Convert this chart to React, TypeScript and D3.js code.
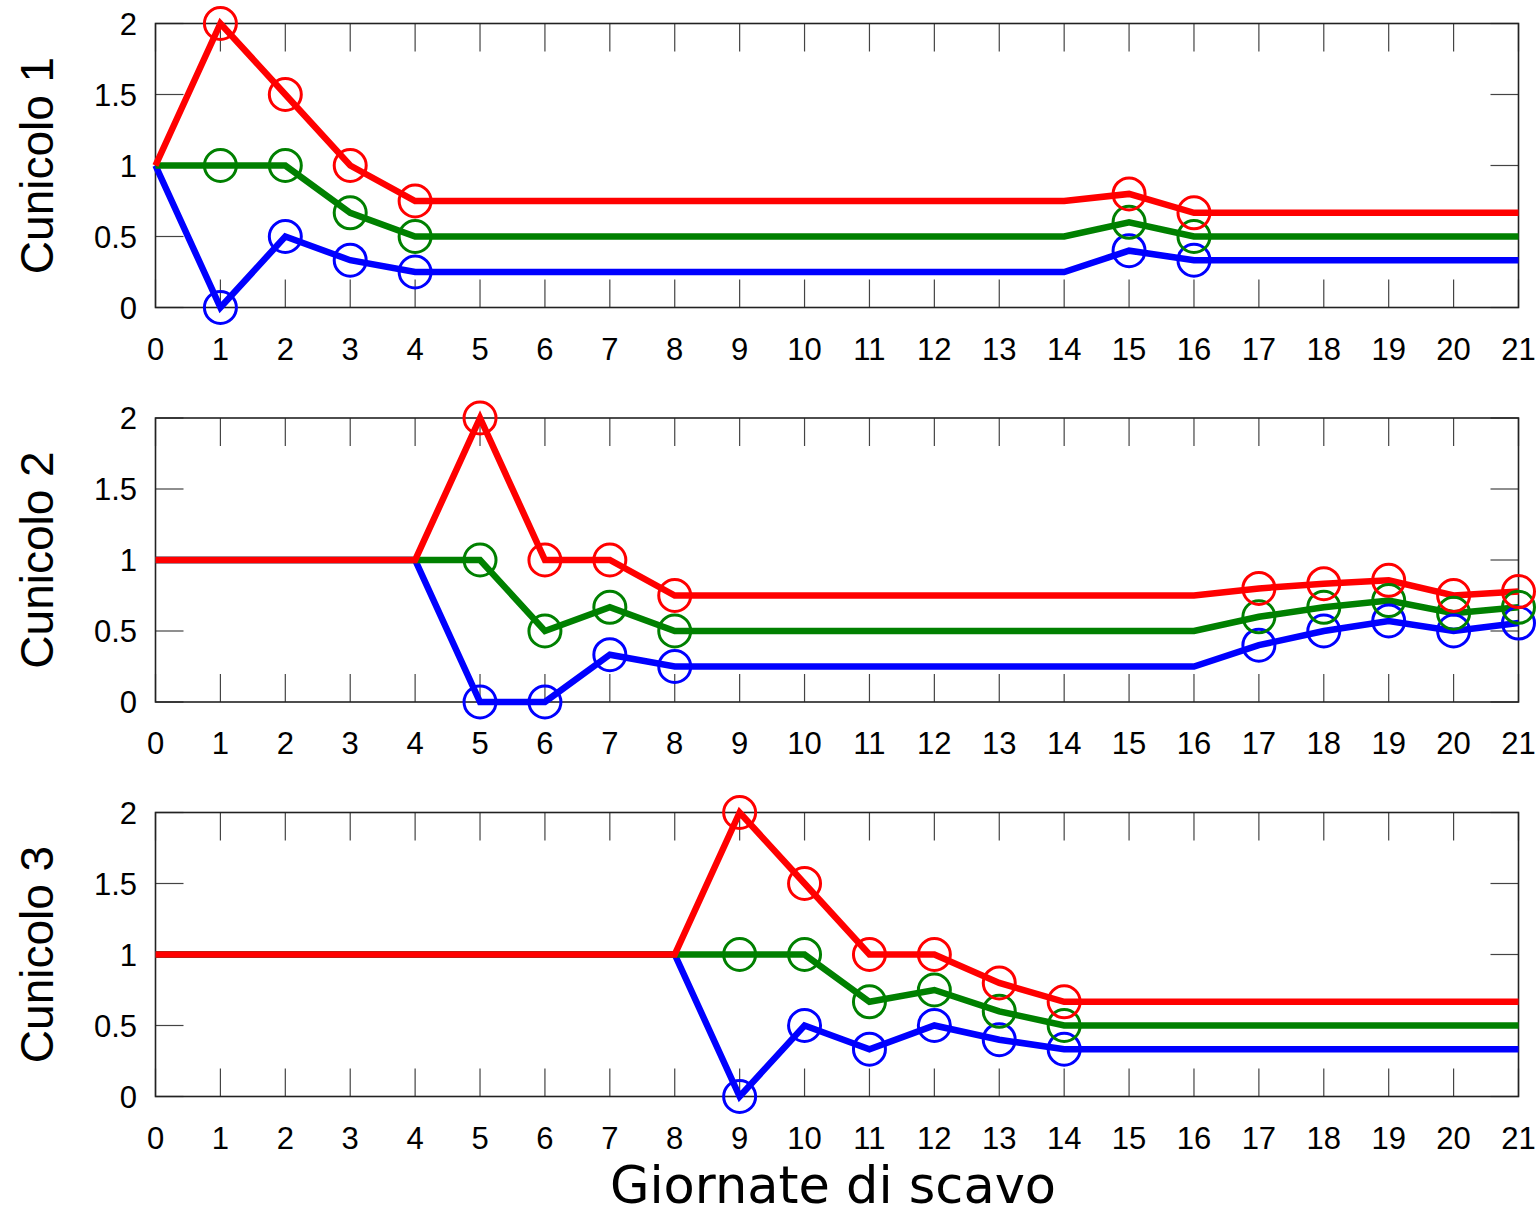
import React from "react";
import * as d3 from "d3";

const days = d3.range(0, 22);
const xTicks = d3.range(0, 22);
const yTicks = [0, 0.5, 1, 1.5, 2];
const yTickLabels = ["0", "0.5", "1", "1.5", "2"];
const panelTitles = ["Cunicolo 1", "Cunicolo 2", "Cunicolo 3"];
const xTitle = "Giornate di scavo";

// Cunicolo 1 (values for day 0..21)
const c1Red = [1, 2, 1.5, 1, 0.75, 0.75, 0.75, 0.75, 0.75, 0.75, 0.75, 0.75, 0.75, 0.75, 0.75, 0.8, 0.667, 0.667, 0.667, 0.667, 0.667, 0.667];
const c1Green = [1, 1, 1, 0.667, 0.5, 0.5, 0.5, 0.5, 0.5, 0.5, 0.5, 0.5, 0.5, 0.5, 0.5, 0.6, 0.5, 0.5, 0.5, 0.5, 0.5, 0.5];
const c1Blue = [1, 0, 0.5, 0.333, 0.25, 0.25, 0.25, 0.25, 0.25, 0.25, 0.25, 0.25, 0.25, 0.25, 0.25, 0.4, 0.333, 0.333, 0.333, 0.333, 0.333, 0.333];
const c1Markers = [1, 2, 3, 4, 15, 16];

// Cunicolo 2
const c2Red = [1, 1, 1, 1, 1, 2, 1, 1, 0.75, 0.75, 0.75, 0.75, 0.75, 0.75, 0.75, 0.75, 0.75, 0.8, 0.833, 0.857, 0.75, 0.778];
const c2Green = [1, 1, 1, 1, 1, 1, 0.5, 0.667, 0.5, 0.5, 0.5, 0.5, 0.5, 0.5, 0.5, 0.5, 0.5, 0.6, 0.667, 0.714, 0.625, 0.667];
const c2Blue = [1, 1, 1, 1, 1, 0, 0, 0.333, 0.25, 0.25, 0.25, 0.25, 0.25, 0.25, 0.25, 0.25, 0.25, 0.4, 0.5, 0.571, 0.5, 0.556];
const c2Markers = [5, 6, 7, 8, 17, 18, 19, 20, 21];

// Cunicolo 3
const c3Red = [1, 1, 1, 1, 1, 1, 1, 1, 1, 2, 1.5, 1, 1, 0.8, 0.667, 0.667, 0.667, 0.667, 0.667, 0.667, 0.667, 0.667];
const c3Green = [1, 1, 1, 1, 1, 1, 1, 1, 1, 1, 1, 0.667, 0.75, 0.6, 0.5, 0.5, 0.5, 0.5, 0.5, 0.5, 0.5, 0.5];
const c3Blue = [1, 1, 1, 1, 1, 1, 1, 1, 1, 0, 0.5, 0.333, 0.5, 0.4, 0.333, 0.333, 0.333, 0.333, 0.333, 0.333, 0.333, 0.333];
const c3Markers = [9, 10, 11, 12, 13, 14];

const seriesColors = ["#0000ff", "#008000", "#ff0000"];

const panels = [
  { title: panelTitles[0], series: [c1Blue, c1Green, c1Red], markers: c1Markers },
  { title: panelTitles[1], series: [c2Blue, c2Green, c2Red], markers: c2Markers },
  { title: panelTitles[2], series: [c3Blue, c3Green, c3Red], markers: c3Markers },
];

const W = 1539;
const H = 1215;
const left = 155.5;
const right = 1518.5;
const tops = [23.5, 418, 812.5];
const plotH = 284;
const tickLen = 28;

export default function App() {
  const x = d3.scaleLinear().domain([0, 21]).range([left, right]);
  return (
    <svg width={W} height={H} style={{ position: "absolute", left: 0, top: 0, background: "#fff" }}>
      <rect x={0} y={0} width={W} height={H} fill="#fff" />
      {panels.map((p, pi) => {
        const top = tops[pi];
        const bottom = top + plotH;
        const y = d3.scaleLinear().domain([0, 2]).range([bottom, top]);
        const line = d3
          .line<number>()
          .x((_, i) => x(days[i]))
          .y((v) => y(v));
        return (
          <g key={pi}>
            {xTicks.map((t) => (
              <g key={"xt" + t} stroke="#444" strokeWidth={1.2}>
                <line x1={x(t)} x2={x(t)} y1={bottom} y2={bottom - tickLen} />
                <line x1={x(t)} x2={x(t)} y1={top} y2={top + tickLen} />
              </g>
            ))}
            {yTicks.map((t) => (
              <g key={"yt" + t} stroke="#444" strokeWidth={1.2}>
                <line x1={left} x2={left + tickLen} y1={y(t)} y2={y(t)} />
                <line x1={right} x2={right - tickLen} y1={y(t)} y2={y(t)} />
              </g>
            ))}
            <rect x={left} y={top} width={right - left} height={plotH} fill="none" stroke="#222" strokeWidth={1.6} />
            {xTicks.map((t) => (
              <text
                key={"xl" + t}
                x={x(t)}
                y={bottom + 52}
                textAnchor="middle"
                fontFamily="Liberation Sans, Arial, sans-serif"
                fontSize={31}
                fill="#000"
              >
                {t}
              </text>
            ))}
            {yTicks.map((t, i) => (
              <text
                key={"yl" + t}
                x={137}
                y={y(t)}
                dy="0.36em"
                textAnchor="end"
                fontFamily="Liberation Sans, Arial, sans-serif"
                fontSize={31}
                fill="#000"
              >
                {yTickLabels[i]}
              </text>
            ))}
            <text
              transform={`translate(53, ${(top + bottom) / 2}) rotate(-90)`}
              textAnchor="middle"
              fontFamily="Liberation Sans, Arial, sans-serif"
              fontSize={46}
              fill="#000"
            >
              {p.title}
            </text>
            {p.series.map((s, si) => (
              <path key={"l" + si} d={line(s) || ""} fill="none" stroke={seriesColors[si]} strokeWidth={6.5} strokeLinejoin="miter" />
            ))}
            {p.series.map((s, si) =>
              p.markers.map((d) => (
                <circle
                  key={"m" + si + "-" + d}
                  cx={x(d)}
                  cy={y(s[d])}
                  r={16}
                  fill="none"
                  stroke={seriesColors[si]}
                  strokeWidth={3}
                />
              ))
            )}
          </g>
        );
      })}
      <text
        x={833}
        y={1203}
        textAnchor="middle"
        fontFamily="DejaVu Sans, sans-serif"
        fontSize={51}
        fill="#000"
      >
        {xTitle}
      </text>
    </svg>
  );
}
